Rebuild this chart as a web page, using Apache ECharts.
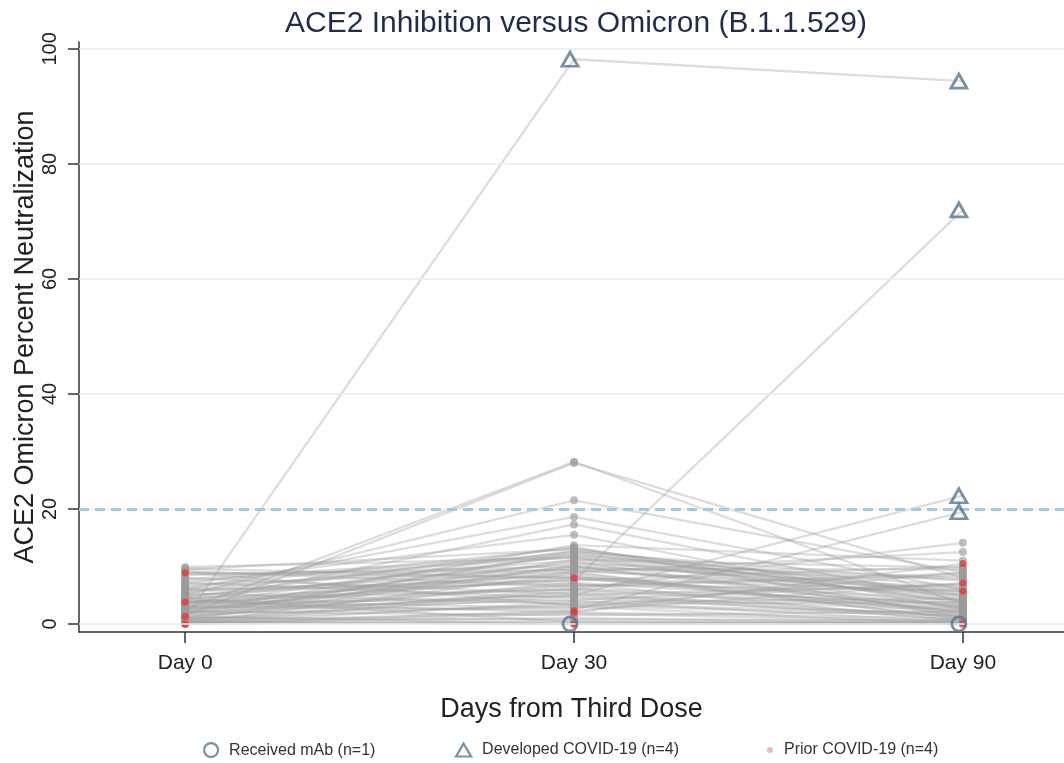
<!DOCTYPE html>
<html><head><meta charset="utf-8">
<script src="https://cdn.jsdelivr.net/npm/echarts@6/dist/echarts.min.js"></script>
<style>html,body{margin:0;padding:0;background:#fff}#c{width:1064px;height:763px}</style>
</head><body><div id="c"></div><script>
const categories = ['Day 0', 'Day 30', 'Day 90'];
const yTicks = [0, 20, 40, 60, 80, 100];
const threshold = 20;
const titleText = 'ACE2 Inhibition versus Omicron (B.1.1.529)';
const yTitle = 'ACE2 Omicron Percent Neutralization';
const xTitle = 'Days from Third Dose';
const legendNames = ['Received mAb (n=1)', 'Developed COVID-19 (n=4)', 'Prior COVID-19 (n=4)'];

// one entry per participant
const day0 = [1.0, 4.5, 2.0, 3.0, 0.5, 8.9, 3.8, 1.3, 0.0,
  1.5, 2.5, 5.0, 6.0, 3.5, 7.0, 2.0, 9.5, 4.0, 2.5,
  9.9, 9.2, 8.5, 7.8, 7.2, 6.8, 6.2, 5.9, 5.6, 5.3, 5.0, 4.8, 4.5, 4.2, 4.0, 3.7, 3.5, 3.2, 3.0, 2.8,
  2.6, 2.4, 2.2, 2.0, 1.8, 1.6, 1.4, 1.2, 1.0, 0.8, 0.6, 0.5, 0.4, 0.3, 0.2, 0.1, 0.0, 0.0, 0.0, 0.8,
  6.5, 8.0, 9.0, 4.4, 3.3,
  9.6, 7.5, 5.5, 4.6, 3.9, 2.9, 1.9, 1.1, 0.7, 6.0, 8.7, 0.2];
const day30 = [98.2, 7.5, 5.0, 2.5, 0.0, 8.0, 2.0, 0.0, 2.3,
  28.0, 28.2, 21.5, 18.6, 17.3, 15.5, 13.7, 13.0, 6.0, 9.0,
  11.5, 6.5, 10.0, 12.0, 4.5, 9.5, 11.0, 7.0, 12.5, 3.5, 8.5, 10.5, 6.0, 11.8, 2.8, 9.0, 7.8, 5.0, 10.8, 4.0,
  8.2, 6.8, 1.5, 9.8, 3.0, 12.2, 5.5, 7.2, 0.8, 4.8, 10.2, 2.0, 6.2, 1.0, 8.8, 3.8, 0.5, 5.8, 1.8, 11.2,
  13.2, 5.2, 3.2, 0.3, 12.8,
  8.0, 11.6, 9.2, 13.4, 4.2, 10.0, 6.6, 12.6, 3.4, 7.6, 9.4, 0.0];
const day90 = [94.4, 72.0, 22.3, 19.5, 0.0, 5.7, 10.5, 0.1, 7.1,
  8.0, 3.5, 9.0, 6.0, 4.0, 2.5, 11.0, 5.0, 14.1, 12.5,
  3.0, 8.5, 2.0, 6.5, 1.5, 9.5, 4.5, 0.5, 7.5, 3.8, 1.0, 8.0, 2.8, 5.2, 9.0, 0.8, 4.2, 6.8, 1.8, 0.3,
  3.2, 5.8, 2.2, 7.8, 0.0, 4.8, 1.2, 3.0, 0.6, 2.4, 6.2, 0.9, 3.6, 0.2, 1.6, 4.4, 0.0, 2.6, 0.4, 9.8,
  3.4, 0.7, 1.4, 0.1, 5.5,
  2.2, 4.0, 6.0, 1.1, 7.0, 2.9, 8.8, 3.8, 1.9, 10.0, 5.0, 0.5];
// marker at Day 0 / Day 30 / Day 90: g = plain, o = received mAb, t = developed COVID-19, r = prior COVID-19
const marks = ['gtt', 'ggt', 'ggt', 'ggt', 'goo', 'rrr', 'rrr', 'rrr', 'rrr',
  'ggg', 'ggg', 'ggg', 'ggg', 'ggg', 'ggg', 'ggg', 'ggg', 'ggg', 'ggg',
  'ggg', 'ggg', 'ggg', 'ggg', 'ggg', 'ggg', 'ggg', 'ggg', 'ggg', 'ggg', 'ggg', 'ggg', 'ggg', 'ggg', 'ggg', 'ggg', 'ggg', 'ggg', 'ggg', 'ggg',
  'ggg', 'ggg', 'ggg', 'ggg', 'ggg', 'ggg', 'ggg', 'ggg', 'ggg', 'ggg', 'ggg', 'ggg', 'ggg', 'ggg', 'ggg', 'ggg', 'ggg', 'ggg', 'ggg', 'ggg',
  'ggg', 'ggg', 'ggg', 'ggg', 'ggg',
  'ggg', 'ggg', 'ggg', 'ggg', 'ggg', 'ggg', 'ggg', 'ggg', 'ggg', 'ggg', 'ggg', 'ggg'];

const FONT = '"Liberation Sans", Arial, sans-serif';
const MARK = '#57758f';

function points(code) {
  const out = [];
  for (let i = 0; i < day0.length; i++) {
    const vals = [day0[i], day30[i], day90[i]];
    for (let t = 0; t < 3; t++) if (marks[i][t] === code) out.push([t, vals[t]]);
  }
  return out;
}

const series = [];
series.push({
  type: 'scatter', data: [], z: 0, silent: true,
  markLine: { silent: true, symbol: 'none', label: { show: false }, animation: false,
    lineStyle: { color: '#e3eef0', width: 1.5, type: 'solid' },
    data: yTicks.map(v => ({ yAxis: v })) }
});
day0.forEach((v, i) => {
  series.push({
    type: 'line', silent: true, z: 1, symbol: 'none', animation: false,
    data: [[0, day0[i]], [1, day30[i]], [2, day90[i]]],
    lineStyle: { color: 'rgba(160,160,160,0.36)', width: 2.3 }
  });
});
series.push({
  type: 'scatter', data: [], z: 2, silent: true,
  markLine: { silent: true, symbol: 'none', label: { show: false }, animation: false,
    lineStyle: { color: '#9ecbea', width: 3, type: [10, 6] },
    data: [{ yAxis: threshold }] }
});
series.push({ type: 'scatter', z: 3, silent: true, animation: false, data: points('g'),
  symbolSize: 8, itemStyle: { color: 'rgba(155,155,155,0.8)' } });
series.push({ name: legendNames[2], type: 'scatter', z: 4, animation: false, data: points('r'),
  symbolSize: 7, itemStyle: { color: '#e8373a' } });
series.push({ name: legendNames[0], type: 'scatter', z: 5, animation: false, data: points('o'),
  symbol: 'circle', symbolSize: 14, symbolOffset: [-4, 0],
  itemStyle: { color: 'rgba(255,255,255,0)', borderColor: MARK, borderWidth: 2.8 } });
series.push({ name: legendNames[1], type: 'scatter', z: 5, animation: false, data: points('t'),
  symbol: 'triangle', symbolSize: [16, 14], symbolOffset: [-4, 0],
  itemStyle: { color: 'rgba(255,255,255,0)', borderColor: MARK, borderWidth: 2.8 } });

const legendBase = { orient: 'horizontal', top: 737, itemGap: 0, selectedMode: false,
  textStyle: { fontSize: 16, color: '#333', fontFamily: FONT, padding: [0, 0, 0, 6] } };

const chart = echarts.init(document.getElementById('c'), null, { renderer: 'canvas' });
chart.setOption({
  animation: false,
  backgroundColor: '#fff',
  title: { text: titleText, left: 571, top: 4, textAlign: 'center',
    textStyle: { fontSize: 30, fontWeight: 'normal', color: '#1f2d4d', fontFamily: FONT } },
  grid: { left: 79, right: 0, top: 42, bottom: 131, containLabel: false },
  legend: [
    Object.assign({}, legendBase, { left: 198, itemWidth: 14, itemHeight: 14,
      data: [{ name: legendNames[0], icon: 'circle', itemStyle: { color: 'rgba(255,255,255,0)', borderColor: MARK, borderWidth: 2.2 } }] }),
    Object.assign({}, legendBase, { left: 450, itemWidth: 15, itemHeight: 13,
      data: [{ name: legendNames[1], icon: 'triangle', itemStyle: { color: 'rgba(255,255,255,0)', borderColor: MARK, borderWidth: 2.2 } }] }),
    Object.assign({}, legendBase, { left: 762, itemWidth: 6, itemHeight: 6,
      data: [{ name: legendNames[2], icon: 'circle', itemStyle: { color: '#f4a4a4' } }] })
  ],
  xAxis: {
    type: 'value', min: -0.273, max: 2.26,
    axisLine: { show: true, onZero: false, lineStyle: { color: '#333', width: 1.5 } },
    axisTick: { show: true, customValues: [0, 1, 2], length: 11, lineStyle: { color: '#333', width: 1.5 } },
    axisLabel: { customValues: [0, 1, 2], formatter: v => categories[Math.round(v)] || '',
      fontSize: 21, color: '#222', margin: 21, fontFamily: FONT },
    splitLine: { show: false },
    name: xTitle, nameLocation: 'middle', nameGap: 64, nameMoveOverlap: false,
    nameTextStyle: { fontSize: 27, color: '#222', fontFamily: FONT }
  },
  yAxis: {
    type: 'value', min: -1.4, max: 101.2,
    axisLine: { show: true, onZero: false, lineStyle: { color: '#333', width: 1.5 } },
    axisTick: { show: true, customValues: yTicks, length: 11, lineStyle: { color: '#333', width: 1.5 } },
    axisLabel: { customValues: yTicks, rotate: 90, fontSize: 20, color: '#222', margin: 19, fontFamily: FONT },
    splitLine: { show: false },
    name: yTitle, nameLocation: 'middle', nameGap: 40, nameMoveOverlap: false,
    nameTextStyle: { fontSize: 27, color: '#222', fontFamily: FONT }
  },
  series: series
});
</script></body></html>
